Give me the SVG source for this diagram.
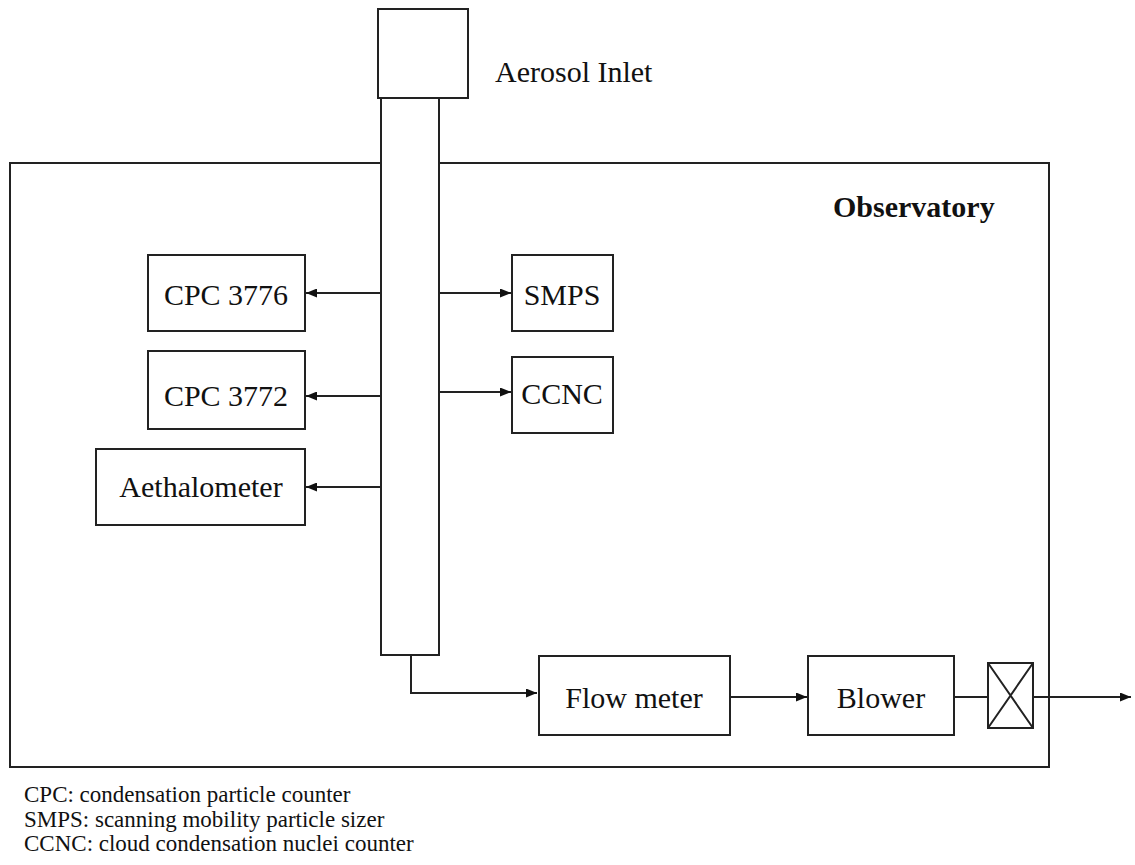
<svg xmlns="http://www.w3.org/2000/svg" width="1135" height="865" viewBox="0 0 1135 865">
<style>
.b{fill:#fff;stroke:#222;stroke-width:2}
.l{fill:none;stroke:#222;stroke-width:2}
.t{font-size:30px;fill:#111}
.lg{font-size:23px;fill:#111}
</style>
<defs>
<marker id="a" markerWidth="11" markerHeight="9" refX="11" refY="4.5" orient="auto" markerUnits="userSpaceOnUse">
<path d="M0,0 L11,4.5 L0,9 Z" fill="#111"/>
</marker>
</defs>
<rect width="1135" height="865" fill="#fff"/>
<g font-family="'Liberation Serif', 'Times New Roman', Times, serif">
<g id="observatory">
<rect class="b" x="10" y="163" width="1039" height="604"/>
<text class="t" x="833" y="217" font-weight="bold">Observatory</text>
</g>
<g id="inlet">
<rect class="b" x="378" y="9" width="90" height="89"/>
<rect class="b" x="381" y="98" width="58" height="557"/>
<text class="t" x="495" y="82">Aerosol Inlet</text>
</g>
<g id="cpc3776">
<rect class="b" x="148" y="255" width="157" height="76"/>
<text class="t" x="226" y="305" text-anchor="middle">CPC 3776</text>
</g>
<g id="cpc3772">
<rect class="b" x="148" y="351" width="157" height="78"/>
<text class="t" x="226" y="406" text-anchor="middle">CPC 3772</text>
</g>
<g id="aethalometer">
<rect class="b" x="96" y="449" width="209" height="76"/>
<text class="t" x="201" y="497" text-anchor="middle">Aethalometer</text>
</g>
<g id="smps">
<rect class="b" x="512" y="255" width="101" height="76"/>
<text class="t" x="562" y="305" text-anchor="middle">SMPS</text>
</g>
<g id="ccnc">
<rect class="b" x="512" y="357" width="101" height="76"/>
<text class="t" x="562" y="404" text-anchor="middle">CCNC</text>
</g>
<g id="flowmeter">
<rect class="b" x="539" y="656" width="191" height="79"/>
<text class="t" x="634" y="708" text-anchor="middle">Flow meter</text>
</g>
<g id="blower">
<rect class="b" x="808" y="656" width="146" height="79"/>
<text class="t" x="881" y="708" text-anchor="middle">Blower</text>
</g>
<g id="valve">
<rect class="b" x="988" y="663" width="45" height="65"/>
<path class="l" d="M988,663 L1033,728 M1033,663 L988,728"/>
</g>
<g id="connectors">
<path class="l" d="M381,293 H306" marker-end="url(#a)"/>
<path class="l" d="M381,396 H306" marker-end="url(#a)"/>
<path class="l" d="M381,487 H306" marker-end="url(#a)"/>
<path class="l" d="M439,293 H511" marker-end="url(#a)"/>
<path class="l" d="M439,392 H511" marker-end="url(#a)"/>
<path class="l" d="M411,655 V693 H537" marker-end="url(#a)"/>
<path class="l" d="M731,697 H807" marker-end="url(#a)"/>
<path class="l" d="M954,697 H988"/>
<path class="l" d="M1033,697 H1131" marker-end="url(#a)"/>
</g>
<g id="legend">
<text class="lg" x="24" y="802">CPC: condensation particle counter</text>
<text class="lg" x="24" y="827">SMPS: scanning mobility particle sizer</text>
<text class="lg" x="24" y="851">CCNC: cloud condensation nuclei counter</text>
</g>
</g>
</svg>
